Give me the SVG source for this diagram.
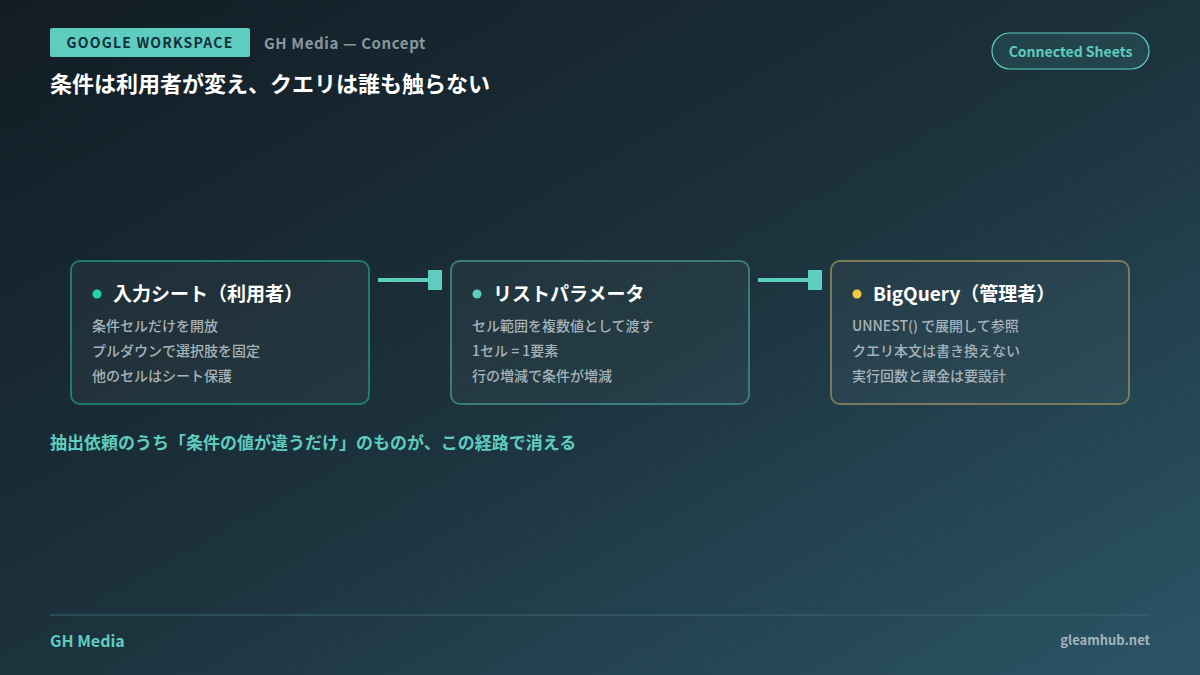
<svg xmlns="http://www.w3.org/2000/svg" width="1200" height="675" viewBox="0 0 1200 675">
<defs>
<linearGradient id="bg" x1="0" y1="0" x2="1" y2="1">
<stop offset="0" stop-color="#121c24"/>
<stop offset="0.5" stop-color="#1c323c"/>
<stop offset="1" stop-color="#2b5566"/>
</linearGradient>
<marker id="sq" markerWidth="14" markerHeight="20" refX="0" refY="10" markerUnits="userSpaceOnUse" orient="auto">
<rect x="0" y="0" width="14" height="20" fill="#5ecdc0"/>
</marker>
<style>
text{font-family:"Noto Sans CJK JP","Noto Sans",sans-serif;}
.box{fill:rgba(255,255,255,0.04);stroke-width:2;}
.ttl{font-size:19px;font-weight:700;fill:#ffffff;}
.ln{font-size:14px;font-weight:500;fill:#a7b3b9;}
.conn{stroke:#5ecdc0;stroke-width:4;fill:none;}
</style>
</defs>
<rect width="1200" height="675" fill="url(#bg)"/>
<g id="header">
<rect x="50" y="28" width="200" height="29" rx="2" fill="#5ecdc0"/>
<text x="150" y="48" text-anchor="middle" font-size="14" font-weight="700" letter-spacing="1.2" fill="#12303a">GOOGLE WORKSPACE</text>
<text x="264" y="49" font-size="15" font-weight="700" fill="#8896a0" letter-spacing="0.6">GH Media — Concept</text>
<text x="50" y="92" font-size="22" font-weight="700" fill="#ffffff">条件は利用者が変え、クエリは誰も触らない</text>
<rect x="992" y="33" width="157" height="36" rx="18" fill="rgba(94,205,192,0.12)" stroke="#5ecdc0" stroke-width="1.2"/>
<text x="1070.5" y="57" text-anchor="middle" font-size="14" font-weight="700" fill="#5ecdc0">Connected Sheets</text>
</g>
<g id="connectors">
<line class="conn" x1="378" y1="280" x2="428" y2="280" marker-end="url(#sq)"/>
<line class="conn" x1="758" y1="280" x2="808" y2="280" marker-end="url(#sq)"/>
</g>
<g id="node-input">
<rect class="box" x="71" y="261" width="298" height="143" rx="9" stroke="#1e7c6d"/>
<circle cx="97" cy="294" r="4.5" fill="#22d3aa"/>
<text class="ttl" x="113" y="301">入力シート（利用者）</text>
<text class="ln" x="92" y="331">条件セルだけを開放</text>
<text class="ln" x="92" y="356">プルダウンで選択肢を固定</text>
<text class="ln" x="92" y="381">他のセルはシート保護</text>
</g>
<g id="node-param">
<rect class="box" x="451" y="261" width="298" height="143" rx="9" stroke="#3d7b7b"/>
<circle cx="477" cy="294" r="4.5" fill="#5ecdc0"/>
<text class="ttl" x="493" y="301">リストパラメータ</text>
<text class="ln" x="472" y="331">セル範囲を複数値として渡す</text>
<text class="ln" x="472" y="356">1セル = 1要素</text>
<text class="ln" x="472" y="381">行の増減で条件が増減</text>
</g>
<g id="node-bq">
<rect class="box" x="831" y="261" width="298" height="143" rx="9" stroke="#7a7b58"/>
<circle cx="857" cy="294" r="4.5" fill="#f5c842"/>
<text class="ttl" x="873" y="301">BigQuery（管理者）</text>
<text class="ln" x="852" y="331">UNNEST() で展開して参照</text>
<text class="ln" x="852" y="356">クエリ本文は書き換えない</text>
<text class="ln" x="852" y="381">実行回数と課金は要設計</text>
</g>
<g id="note">
<text x="50" y="449" font-size="17" font-weight="700" fill="#5ecdc0">抽出依頼のうち「条件の値が違うだけ」のものが、この経路で消える</text>
</g>
<g id="footer">
<line x1="50" y1="615" x2="1150" y2="615" stroke="#3b6670" stroke-width="1"/>
<text x="50" y="647" font-size="16" font-weight="700" fill="#5ecdc0">GH Media</text>
<text x="1150" y="645" text-anchor="end" font-size="13" font-weight="700" fill="#a3b6bc">gleamhub.net</text>
</g>
</svg>
